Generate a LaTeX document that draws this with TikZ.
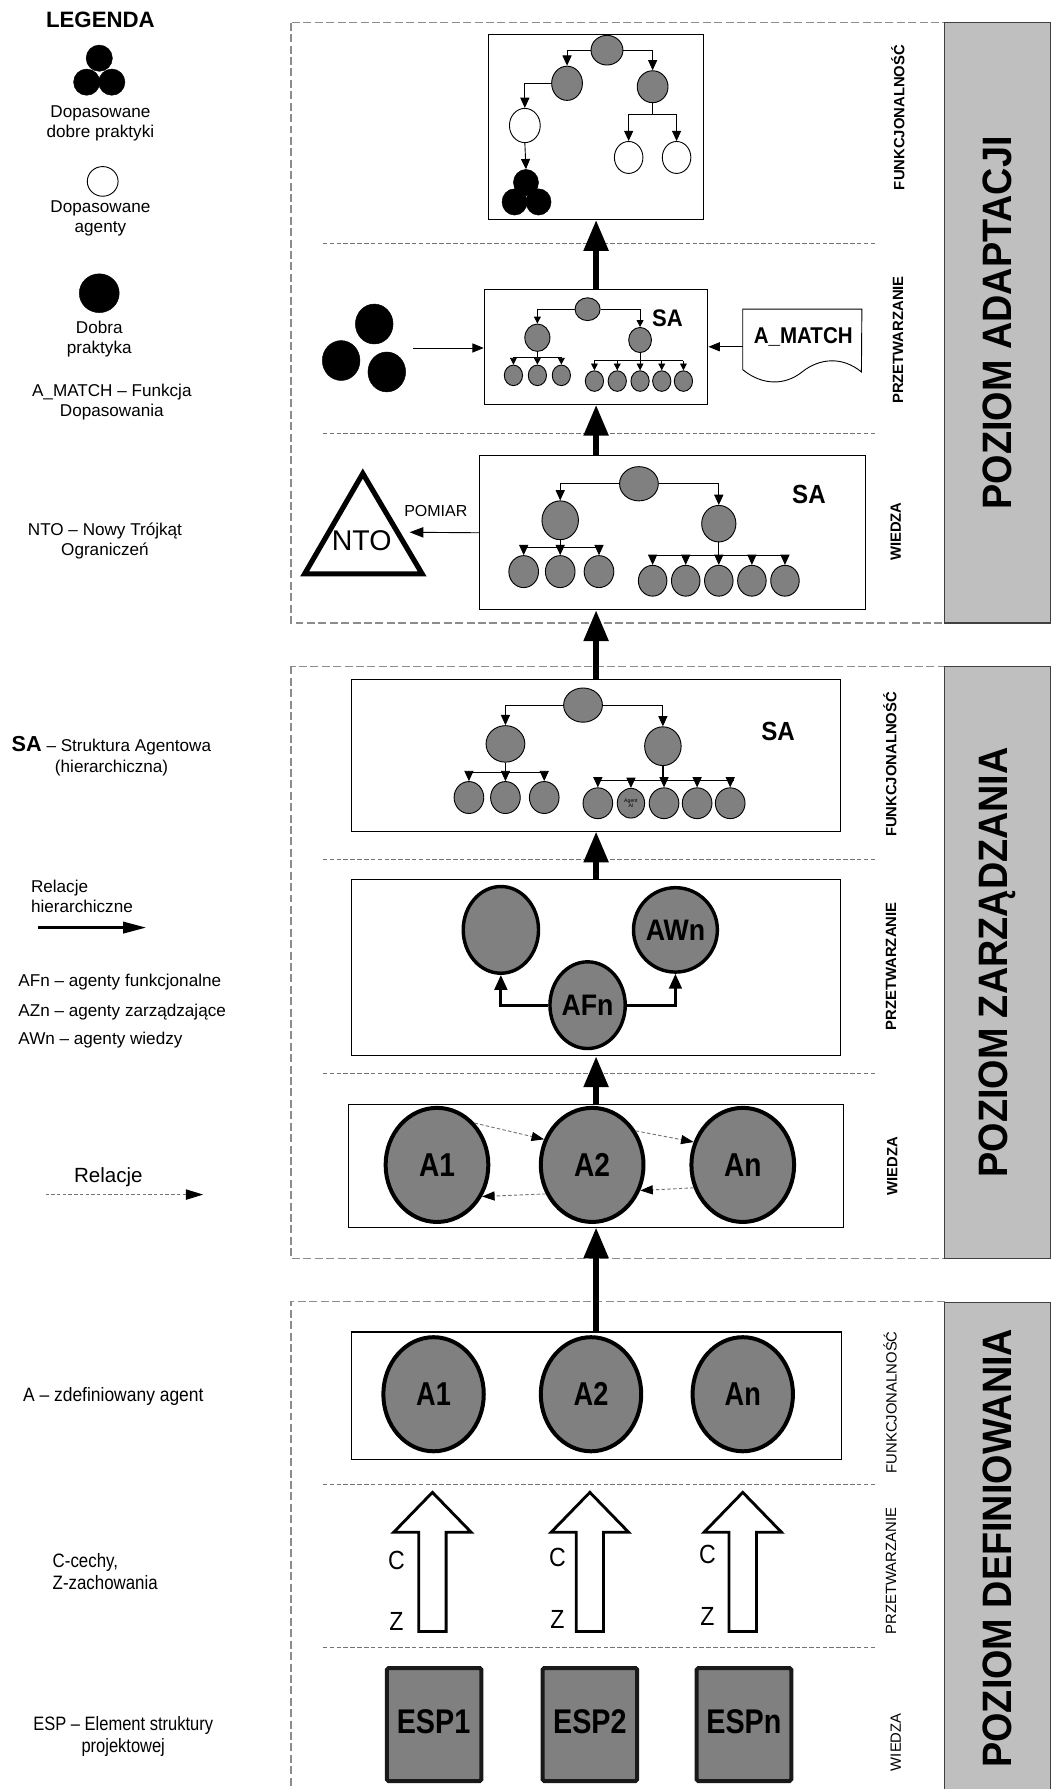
\documentclass[tikz,border=0pt]{standalone}
\usepackage{fontspec}
\usepackage{graphicx}
\setmainfont{Liberation Sans}
\usetikzlibrary{shapes.geometric,arrows.meta}
\definecolor{nodegray}{gray}{0.5}
\definecolor{bandgray}{gray}{0.75}
\newcommand{\fsz}[2]{\fontsize{#1}{#2}\selectfont}
\newcommand{\nrw}[2]{\scalebox{#1}[1]{#2}}
\begin{document}
\begin{tikzpicture}[x=1pt,y=-1pt,
  box/.style={draw=black, line width=0.9, fill=white, anchor=north west, inner sep=0},
  gnode/.style={ellipse, draw=black, line width=0.8, fill=nodegray, inner sep=0},
  wnode/.style={ellipse, draw=black, line width=0.8, fill=white, inner sep=0},
  bnode/.style={ellipse, draw=black, fill=black, inner sep=0},
  agent/.style={ellipse, draw=black, line width=3.5, fill=nodegray, inner sep=0, font=\bfseries\fsz{29}{29}},
  tarr/.style={line width=0.8, -{Triangle[length=9,width=8]}},
  sarr/.style={line width=0.8, -{Triangle[length=6,width=6]}},
  lay/.style={rotate=90, font=\bfseries\fsz{13}{13}, inner sep=0},
  band/.style={rotate=90, fill=bandgray, draw=black!75, line width=1, font=\bfseries\fsz{36}{36}, inner sep=0},
  sep/.style={draw=black!55, dash pattern=on 4pt off 2pt, line width=0.8},
  outer/.style={draw=black!45, dash pattern=on 7pt off 3pt, line width=1},
  big/.style={line width=5, -{Triangle[length=27,width=21]}},
  hier/.style={line width=2.5, -{Triangle[length=13,width=11]}},
  rel/.style={draw=black!55, dash pattern=on 3pt off 2pt, line width=0.8, -{Triangle[length=11,width=8,color=black]}},
  ltxt/.style={align=center, font=\fsz{15}{17.5}, inner sep=0},
  ltxl/.style={anchor=west, align=left, font=\fsz{15}{17.5}, inner sep=0},
  ntxt/.style={font=\fsz{17}{19}, inner sep=0},
  cz/.style={font=\fsz{23}{23}, inner sep=0},
  esp/.style={rectangle, rounded corners=1.5, fill=nodegray, draw=black!90, line width=3.5, minimum width=83, minimum height=99, inner sep=0},
  esptxt/.style={font=\bfseries\fsz{30}{30}, inner sep=0},
  hollow/.style={draw=black, line width=2.5, fill=white, line join=miter}
]
\fill[white] (0,0) rectangle (921,1568);
\useasboundingbox (0,0) rectangle (921,1568);

% ---------------- legend column ----------------
\node[font=\bfseries\fsz{19.5}{19.5}, inner sep=0] (legt) at (88,17) {LEGENDA};
\node[bnode, minimum width=23, minimum height=23] (lk1) at (87,51) {};
\node[bnode, minimum width=23, minimum height=23] (lk2) at (76,72) {};
\node[bnode, minimum width=23, minimum height=23] (lk3) at (98,72) {};
\node[ltxt] (lt1) at (88,108.5) {Dopasowane\\dobre praktyki};
\node[wnode, minimum width=27, minimum height=26] (lw) at (90,159) {};
\node[ltxt] (lt2) at (88,191.5) {Dopasowane\\agenty};
\node[bnode, minimum width=35, minimum height=34] (lb) at (87,257) {};
\node[ltxt] (lt3) at (87,297) {Dobra\\praktyka};
\node[ltxt] (lt4) at (98,352) {A\_MATCH – Funkcja\\Dopasowania};
\node[ltxt] (lt5) at (92,474) {NTO – Nowy Trójkąt\\Ograniczeń};
\node[ltxl] (lt6) at (10,654) {{\bfseries\fsz{19}{19}SA} – Struktura Agentowa};
\node[ltxl] (lt7) at (48,673) {(hierarchiczna)};
\node[ltxl] (lt8) at (27,785.5) {Relacje\\hierarchiczne};
\coordinate (lh1) at (33,813);
\coordinate (lh2) at (128,813);
\draw[line width=2, -{Triangle[length=20,width=10]}] (lh1) -- (lh2);
\node[ltxl] (lt9) at (16,861) {AFn – agenty funkcjonalne};
\node[ltxl] (lt10) at (16,887) {AZn – agenty zarządzające};
\node[ltxl] (lt11) at (16,912) {AWn – agenty wiedzy};
\node[font=\fsz{18}{18}, inner sep=0] (lt12) at (95,1032) {Relacje};
\coordinate (lr1) at (40,1047);
\coordinate (lr2) at (178,1047);
\draw[rel, -{Triangle[length=15,width=9,color=black]}] (lr1) -- (lr2);
\node[ntxt, anchor=west] (lt13) at (20,1224) {\nrw{0.9}{A – zdefiniowany agent}};
\node[ntxt, anchor=west, align=left] (lt14) at (46,1377.5) {\nrw{0.87}{C-cechy,}\\ \nrw{0.87}{Z-zachowania}};
\node[ntxt, align=center] (lt15) at (108,1522) {\nrw{0.85}{ESP – Element struktury}\\\nrw{0.85}{projektowej}};

% ---------------- level frames and bands ----------------
\draw[outer] (255,20) rectangle (828,546);
\draw[outer] (255,584) rectangle (828,1103);
\draw[outer] (828,1141) -- (255,1141) -- (255,1580);
\node[band, minimum width=526, minimum height=93] (bandA) at (874.5,283) {\nrw{0.92}{POZIOM ADAPTACJI}};
\node[band, minimum width=519, minimum height=93] (bandZ) at (874.5,843.5) {\nrw{0.92}{POZIOM ZARZĄDZANIA}};
\node[band, minimum width=440, minimum height=93, anchor=east] (bandD) at (874.5,1141) {};
\node[rotate=90, font=\bfseries\fsz{36}{36}, inner sep=0] (bandDt) at (874.5,1357) {\nrw{0.92}{POZIOM DEFINIOWANIA}};

% layer separators
\draw[sep] (283,213) -- (768,213);
\draw[sep] (283,380) -- (768,380);
\draw[sep] (283,753) -- (768,753);
\draw[sep] (283,941) -- (768,941);
\draw[sep] (283,1301) -- (768,1301);
\draw[sep] (283,1444) -- (768,1444);

% layer names
\node[lay] (la1) at (787,103) {FUNKCJONALNOŚĆ};
\node[lay] (la2) at (787,298) {PRZETWARZANIE};
\node[lay] (la3) at (785,466) {WIEDZA};
\node[lay] (lz1) at (780,670) {FUNKCJONALNOŚĆ};
\node[lay] (lz2) at (781,847) {PRZETWARZANIE};
\node[lay] (lz3) at (782,1022) {WIEDZA};
\node[lay, font=\fsz{13}{13}] (ld1) at (780,1229) {FUNKCJONALNOŚĆ};
\node[lay, font=\fsz{13}{13}] (ld2) at (781,1377) {PRZETWARZANIE};
\node[lay, font=\fsz{13}{13}] (ld3) at (785,1527) {WIEDZA};

% ---------------- boxes ----------------
\node[box, minimum width=188, minimum height=162] (b1) at (428,30) {};
\node[box, minimum width=196, minimum height=101] (b2) at (424,253) {};
\node[box, minimum width=338, minimum height=135] (b3) at (420,399) {};
\node[box, minimum width=428, minimum height=133] (b4) at (308,595) {};
\node[box, minimum width=428, minimum height=155] (b5) at (308,770) {};
\node[box, minimum width=434, minimum height=107] (b6) at (305,968) {};
\node[box, minimum width=429, minimum height=112] (b7) at (308,1167) {};

% ---------------- adaptation: functionality tree ----------------
\node[gnode, minimum width=28, minimum height=26] (t1) at (532,44) {};
\node[gnode, minimum width=27, minimum height=30] (l1) at (497,73) {};
\node[gnode, minimum width=27, minimum height=28] (r1) at (572,76) {};
\node[wnode, minimum width=27, minimum height=30] (w1) at (460,110) {};
\node[wnode, minimum width=25, minimum height=28] (w2) at (551,138) {};
\node[wnode, minimum width=25, minimum height=28] (w3) at (593,138) {};
\node[bnode, minimum width=22, minimum height=23] (k1) at (461,160) {};
\node[bnode, minimum width=22, minimum height=23] (k2) at (451,177) {};
\node[bnode, minimum width=22, minimum height=23] (k3) at (472,177) {};
\draw[tarr] (t1.west) -| (l1.north);
\draw[tarr] (t1.east) -| (r1.north);
\draw[tarr] (l1.west) -| (w1.north);
\draw[tarr] (w1.south) -- (k1.north);
\coordinate (r1b) at (572,100);
\draw[line width=0.8] (r1.south) -- (r1b);
\draw[tarr] (r1b) -| (w2.north);
\draw[tarr] (r1b) -| (w3.north);

% ---------------- adaptation: processing ----------------
\node[gnode, minimum width=22, minimum height=20] (t2) at (515,271) {};
\node[gnode, minimum width=22, minimum height=24] (l2) at (471,296) {};
\node[gnode, minimum width=20, minimum height=22] (r2) at (561,298) {};
\foreach \i/\x in {1/450,2/471,3/492}
  \node[gnode, minimum width=16, minimum height=18] (p\i) at (\x,329) {};
\foreach \i/\x in {1/521,2/541,3/561,4/580,5/599}
  \node[gnode, minimum width=16, minimum height=18] (q\i) at (\x,334) {};
\draw[sarr] (t2.west) -| (l2.north);
\draw[sarr] (t2.east) -| (r2.north);
\coordinate (l2b) at (471,313);
\coordinate (r2b) at (561,316);
\draw[line width=0.8] (l2.south) -- (l2b);
\draw[line width=0.8] (r2.south) -- (r2b);
\draw[line width=0.8] (p1.north |- l2b) -- (p3.north |- l2b);
\draw[line width=0.8] (q1.north |- r2b) -- (q5.north |- r2b);
\foreach \i in {1,2,3} \draw[sarr] (p\i.north |- l2b) -- (p\i.north);
\foreach \i in {1,...,5} \draw[sarr] (q\i.north |- r2b) -- (q\i.north);
\node[font=\bfseries\fsz{21}{21}, inner sep=0] (sa2) at (585,279) {\nrw{0.92}{SA}};

\node[bnode, minimum width=33, minimum height=35] (g1) at (328,284) {};
\node[bnode, minimum width=33, minimum height=35] (g2) at (299,316) {};
\node[bnode, minimum width=33, minimum height=35] (g3) at (339,326) {};
\coordinate (gout) at (362,305);
\draw[line width=0.8, -{Triangle[length=10,width=8]}] (gout) -- (gout -| b2.west);

\node[minimum width=104, minimum height=62, anchor=north west, inner sep=0] (am) at (651,271) {};
\draw[line width=0.8, fill=white] (am.north west) -- (am.north east) -- (755,326)
  .. controls (738,312) and (718,314) .. (703,326)
  .. controls (688,338) and (668,338) .. (651,324) -- cycle;
\node[font=\bfseries\fsz{20}{20}, inner sep=0] (amt) at (704,295) {\nrw{0.9}{A\_MATCH}};
\draw[line width=0.8, -{Triangle[length=10,width=8]}] (am.west |- b2.east) -- (b2.east);

% ---------------- adaptation: knowledge ----------------
\node[gnode, minimum width=34, minimum height=30] (t3) at (560,424) {};
\node[gnode, minimum width=32, minimum height=34] (l3) at (491,456) {};
\node[gnode, minimum width=30, minimum height=32] (r3) at (630,459) {};
\foreach \i/\x in {1/459,2/491,3/525}
  \node[gnode, minimum width=26, minimum height=28] (u\i) at (\x,501) {};
\foreach \i/\x in {1/572,2/601,3/630,4/659,5/688}
  \node[gnode, minimum width=25, minimum height=27] (v\i) at (\x,509) {};
\draw[tarr] (t3.west) -| (l3.north);
\draw[tarr] (t3.east) -| (r3.north);
\coordinate (l3b) at (491,480);
\coordinate (r3b) at (630,487);
\draw[line width=1.2] (l3.south) -- (l3b);
\draw[line width=1.2] (r3.south) -- (r3b);
\draw[line width=1.2] (u1.north |- l3b) -- (u3.north |- l3b);
\draw[line width=1.2] (v1.north |- r3b) -- (v5.north |- r3b);
\foreach \i in {1,2,3} \draw[tarr] (u\i.north |- l3b) -- (u\i.north);
\foreach \i in {1,...,5} \draw[tarr] (v\i.north |- r3b) -- (v\i.north);
\node[font=\bfseries\fsz{23}{23}, inner sep=0] (sa3) at (709,433) {\nrw{0.92}{SA}};

\draw[line width=4.5, line join=miter] (318,415) -- (370,503) -- (267,503) -- cycle;
\node[font=\fsz{25}{25}, inner sep=0] (nto) at (317,474) {NTO};
\coordinate (ntoR) at (359,466.5);
\draw[line width=0.8, -{Triangle[length=12,width=9]}] (b3.west) -- (ntoR);
\node[font=\fsz{14}{14}, inner sep=0] (pom) at (382,448) {POMIAR};

% ---------------- management: functionality ----------------
\node[gnode, minimum width=34, minimum height=30] (t4) at (511,618) {};
\node[gnode, minimum width=34, minimum height=32] (l4) at (443,652) {};
\node[gnode, minimum width=32, minimum height=34] (r4) at (581,654) {};
\foreach \i/\x in {1/411,2/443,3/477}
  \node[gnode, minimum width=26, minimum height=28] (m\i) at (\x,699) {};
\foreach \i/\x in {1/524,3/582,4/611,5/640}
  \node[gnode, minimum width=26, minimum height=27] (n\i) at (\x,704) {};
\node[gnode, minimum width=24, minimum height=26, align=center, font=\fsz{4.5}{5}] (n2) at (553,704) {Agent\\AI};
\draw[tarr] (t4.west) -| (l4.north);
\draw[tarr] (t4.east) -| (r4.north);
\coordinate (l4b) at (443,677);
\coordinate (r4b) at (581,684);
\draw[line width=1.2] (l4.south) -- (l4b);
\draw[line width=1.2] (r4.south) -- (r4b);
\draw[line width=1.2] (m1.north |- l4b) -- (m3.north |- l4b);
\draw[line width=1.2] (n1.north |- r4b) -- ([xshift=3]n5.north |- r4b);
\foreach \i in {1,2,3} \draw[tarr] (m\i.north |- l4b) -- (m\i.north);
\foreach \i in {1,...,5} \draw[tarr] (n\i.north |- r4b) -- (n\i.north);
\node[font=\bfseries\fsz{23}{23}, inner sep=0] (sa4) at (682,641) {\nrw{0.92}{SA}};

% ---------------- management: processing ----------------
\node[agent, line width=3, minimum width=66, minimum height=76] (azn) at (439,815) {};
\node[agent, line width=3, minimum width=66, minimum height=74, font=\bfseries\fsz{26}{26}] (awn) at (592,815) {\nrw{0.9}{AWn}};
\node[agent, line width=3, minimum width=66, minimum height=76, font=\bfseries\fsz{26}{26}] (afn) at (515,881) {\nrw{0.9}{AFn}};
\draw[hier] (afn.west) -| (azn.south);
\draw[hier] (afn.east) -| (awn.south);

% ---------------- management: knowledge ----------------
\node[agent, minimum width=90, minimum height=100] (a1) at (383,1021) {\nrw{0.85}{A1}};
\node[agent, minimum width=90, minimum height=100] (a2) at (519,1021) {\nrw{0.85}{A2}};
\node[agent, minimum width=90, minimum height=100] (an) at (651,1021) {\nrw{0.85}{An}};
\draw[rel] (a1.48) -- (a2.152);
\draw[rel] (a2.38) -- (an.155);
\draw[rel] (a2.212) -- (a1.-35);
\draw[rel] (an.205) -- (a2.-28);

% ---------------- definition: functionality ----------------
\node[agent, minimum width=88, minimum height=100] (d1) at (380,1222) {\nrw{0.82}{A1}};
\node[agent, minimum width=88, minimum height=100] (d2) at (518,1222) {\nrw{0.82}{A2}};
\node[agent, minimum width=88, minimum height=100] (dn) at (651,1222) {\nrw{0.82}{An}};

% ---------------- definition: processing (hollow arrows) ----------------
\foreach \cx in {379, 517, 651}
  \draw[hollow] (\cx-12,1430) -- (\cx-12,1343) -- (\cx-34,1343) -- (\cx,1308)
    -- (\cx+34,1343) -- (\cx+12,1343) -- (\cx+12,1430) -- cycle;
\node[cz] (c1) at (347.5,1368) {\nrw{0.88}{C}};
\node[cz] (z1) at (347.5,1421) {\nrw{0.88}{Z}};
\node[cz] (c2) at (488.5,1365) {\nrw{0.88}{C}};
\node[cz] (z2) at (488.5,1419.5) {\nrw{0.88}{Z}};
\node[cz] (c3) at (620,1362.5) {\nrw{0.88}{C}};
\node[cz] (z3) at (620,1416.5) {\nrw{0.88}{Z}};

% ---------------- definition: knowledge ----------------
\node[esp] (e1) at (380.5,1511.5) {};
\node[esp] (e2) at (517,1511.5) {};
\node[esp] (e3) at (652,1511.5) {};
\node[esptxt] (e1t) at (380,1509) {\nrw{0.84}{ESP1}};
\node[esptxt] (e2t) at (517,1509) {\nrw{0.84}{ESP2}};
\node[esptxt] (e3t) at (652,1509) {\nrw{0.84}{ESPn}};

% ---------------- flow between layers ----------------
\draw[big] (b2.north) -- (b1.south);
\draw[big] (b3.north -| b2.north) -- (b2.south);
\draw[big] (b4.north) -- (b4.north |- b3.south);
\draw[big] (b5.north) -- (b4.south);
\draw[big] (b6.north -| b5.north) -- (b5.south);
\draw[big] (b7.north -| b5.north) -- (b6.south -| b5.north);
\end{tikzpicture}
\end{document}
